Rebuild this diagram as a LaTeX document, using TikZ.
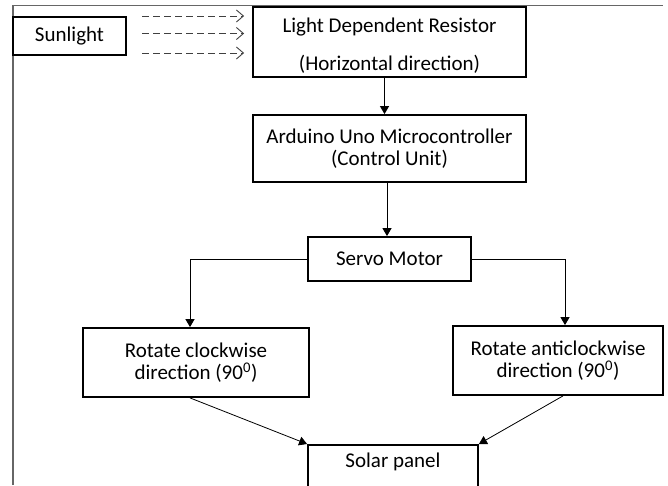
\documentclass[tikz,border=0pt]{standalone}
\usepackage{fontspec}
\setmainfont{Carlito}
\usetikzlibrary{arrows.meta,calc}
\begin{document}
\begin{tikzpicture}[x=1pt,y=-1pt,
  box/.style={draw=black,line width=1.8pt,rectangle,inner sep=0pt,align=center,
    font=\fontsize{21}{22.5}\selectfont},
  conn/.style={draw=black,line width=1pt,-{Triangle[length=8pt,width=9pt]}},
  sunarrow/.style={draw=black!75,line width=0.9pt,dash pattern=on 7pt off 4pt,
    -{Straight Barb[length=7pt,width=12pt,line width=0.9pt]}},
  frameline/.style={draw=black!60,line width=1.1pt}]
\useasboundingbox (0,0) rectangle (668,485);
\clip (0,0) rectangle (668,485);
% frame
\coordinate (fb) at (13,485);
\coordinate (ft) at (13,5.5);
\coordinate (fr) at (663,5.5);
\draw[frameline] (fb) -- (ft) -- (fr);
% nodes
\node[box,minimum width=113pt,minimum height=38pt] (sun) at (69.5,36) {Sunlight};
\node[box,minimum width=273pt,minimum height=70pt] (ldr) at (389.5,42) {\rule{0pt}{22pt}Light Dependent Resistor\\[15pt](Horizontal direction)};
\node[box,minimum width=273pt,minimum height=67pt] (ard) at (389.5,148.5) {Arduino Uno Microcontroller\\(Control Unit)};
\node[box,minimum width=163pt,minimum height=44pt] (servo) at (389.5,259) {Servo Motor};
\node[box,minimum width=226pt,minimum height=69pt] (cw) at (196,362.5) {Rotate clockwise\\direction (90\textsuperscript{0})};
\node[box,minimum width=210pt,minimum height=69pt] (acw) at (558,360.5) {Rotate anticlockwise\\direction (90\textsuperscript{0})};
\node[box,anchor=north,minimum width=170pt,text height=16pt,text depth=40pt,inner ysep=7pt] (solar) at (393,444) {Solar panel};
% sunlight dashed arrows
\coordinate (s1) at (142,16);
\coordinate (s2) at (142,33.5);
\coordinate (s3) at (142,53);
\draw[sunarrow,shorten >=8pt] (s1) -- (ldr.west |- s1);
\draw[sunarrow,shorten >=8pt] (s2) -- (ldr.west |- s2);
\draw[sunarrow,shorten >=8pt] (s3) -- (ldr.west |- s3);
% connectors
\draw[conn] ([xshift=-5pt]ldr.south) -- ([xshift=-5pt]ard.north);
\draw[conn] ([xshift=-2.5pt]ard.south) -- ([xshift=-2.5pt]servo.north);
\draw[conn] (servo.west) -| ([xshift=-6pt]cw.north);
\draw[conn] (servo.east) -| ([xshift=7pt]acw.north);
\draw[conn,line width=0.8pt] ([xshift=-6pt]cw.south) -- (solar.north west);
\draw[conn,line width=0.8pt] ([xshift=5pt]acw.south) -- (solar.north east);
\end{tikzpicture}
\end{document}
